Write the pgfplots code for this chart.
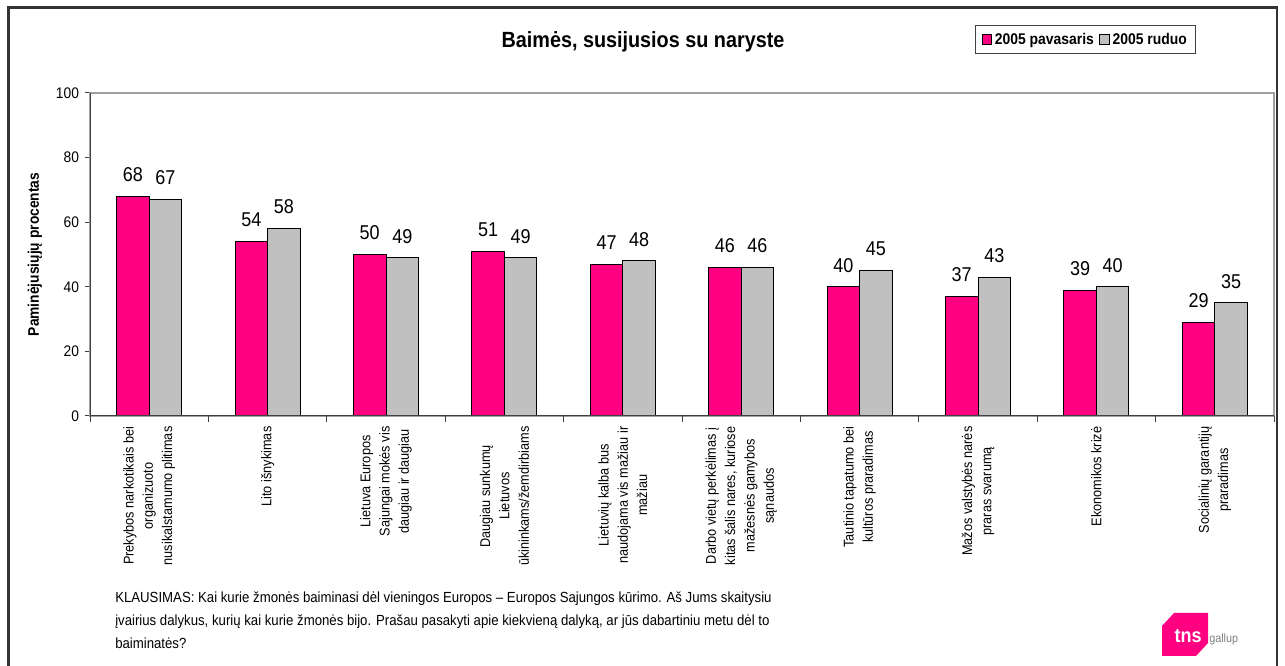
\documentclass[border=0pt]{standalone}
\usepackage{fontspec}
\setmainfont{Liberation Sans}[FakeStretch=0.9]
\usepackage{pgfplots}
\pgfplotsset{compat=1.18}
\definecolor{pinkbar}{RGB}{255,0,128}
\definecolor{graybar}{RGB}{192,192,192}
\definecolor{framegray}{RGB}{51,51,51}
\definecolor{axisdark}{RGB}{64,64,64}
\definecolor{axislight}{RGB}{160,160,160}

\begin{document}
\begin{tikzpicture}
\path[use as bounding box] (0,0) rectangle (963.75pt,499.5pt);
\begin{axis}[
  at={(67.5pt,187.5pt)}, anchor=south west,
  scale only axis, width=888pt, height=242.25pt,
  ybar, bar width=0.275,
  xmin=-0.5, xmax=9.5, ymin=0, ymax=100,
  ytick={0,20,...,100},
  ytick pos=left, xtick pos=bottom,
  /pgf/number format/assume math mode=true,
  yticklabel style={font=\fontsize{11.5}{13}\selectfont, xshift=-1pt},
  major y tick style={draw=axisdark, line width=0.75pt},
  ytick align=outside, major tick length=3.75pt,
  xtick={0,...,9},
  xticklabels={
    {Prekybos narkotikais bei\\organizuoto\\nusikalstamumo plitimas},
    {Lito išnykimas},
    {Lietuva Europos\\Sajungai mokės vis\\daugiau ir daugiau},
    {Daugiau sunkumų\\Lietuvos\\ūkininkams/žemdirbiams},
    {Lietuvių kalba bus\\naudojama vis mažiau ir\\mažiau},
    {Darbo vietų perkėlimas į\\kitas šalis nares, kuriose\\mažesnės gamybos\\sąnaudos},
    {Tautinio tapatumo bei\\kultūros praradimas},
    {Mažos valstybės narės\\praras svarumą},
    {Ekonomikos krizė},
    {Socialinių garantijų\\praradimas}},
  xticklabel style={rotate=90, anchor=east, align=center,
    font=\fontsize{10.6}{14.5}\selectfont, inner sep=0pt, inner xsep=4pt},
  major x tick style={draw=none},
  extra x ticks={-0.5,0.5,1.5,2.5,3.5,4.5,5.5,6.5,7.5,8.5,9.5},
  extra x tick labels={},
  extra x tick style={major tick length=4.5pt, xtick align=outside,
    major x tick style={draw=axisdark, line width=0.75pt}},
  axis line style={draw=axislight, line width=0.9pt},
  ylabel={Paminėjusiųjų procentas},
  ylabel style={font=\bfseries\fontsize{11.5}{13}\selectfont,
    at={(axis description cs:-0.0465,0.5)}, anchor=center},
  legend style={at={(axis description cs:0.7475,1.2105)}, anchor=north west,
    legend columns=2, draw=axisdark, line width=0.75pt,
    font=\bfseries\fontsize{11.6}{13}\selectfont, inner xsep=4.5pt, inner ysep=3.5pt,
    /tikz/every even column/.append style={column sep=2pt}},
  legend image code/.code={\draw[#1, draw=black, line width=0.6pt] (0pt,-3.7pt) rectangle (7.4pt,3.7pt);},
  nodes near coords,
  every node near coord/.append style={font=\fontsize{15}{17}\selectfont, inner sep=0pt, yshift=10.5pt, text=black},
]
\addplot[bar shift=-0.1375, fill=pinkbar, draw=black, line width=0.75pt]
  coordinates {(0,68) (1,54) (2,50) (3,51) (4,47) (5,46) (6,40) (7,37) (8,39) (9,29)};
\addplot[bar shift=0.1375, fill=graybar, draw=black, line width=0.75pt]
  coordinates {(0,67) (1,58) (2,49) (3,49) (4,48) (5,46) (6,45) (7,43) (8,40) (9,35)};
\legend{2005 pavasaris, 2005 ruduo}
\draw[axisdark, line width=0.9pt] (rel axis cs:0,1) -- (rel axis cs:0,0) -- (rel axis cs:1,0);
\end{axis}
\begin{scope}[yshift=499.5pt, x=0.75pt, y=-0.75pt]
  \draw[framegray, line width=1.6pt] (8.5,680) -- (8.5,7.5) -- (1277,7.5) -- (1277,680);
  \node[font=\bfseries\fontsize{16.5}{19}\selectfont] at (643,42) {Baimės, susijusios su naryste};
  \node[anchor=north west, align=left, font=\fontsize{11}{17.25}\selectfont, inner sep=0pt]
    at (115,592) {KLAUSIMAS: Kai kurie žmonės baiminasi dėl vieningos Europos – Europos Sajungos kūrimo. Aš Jums skaitysiu\\
    įvairius dalykus, kurių kai kurie žmonės bijo. Prašau pasakyti apie kiekvieną dalyką, ar jūs dabartiniu metu dėl to\\
    baiminatės?};
  \fill[pinkbar] (1162,626) -- (1174,613) -- (1208,613) -- (1208,643) -- (1196,656) -- (1162,656) -- cycle;
  \node[white, font=\bfseries\fontsize{15}{15}\selectfont, inner sep=0pt] at (1188,636) {tns};
  \node[gray, font=\fontsize{9}{9}\selectfont, anchor=west, inner sep=0pt] at (1209,639) {gallup};
\end{scope}
\end{tikzpicture}
\end{document}
